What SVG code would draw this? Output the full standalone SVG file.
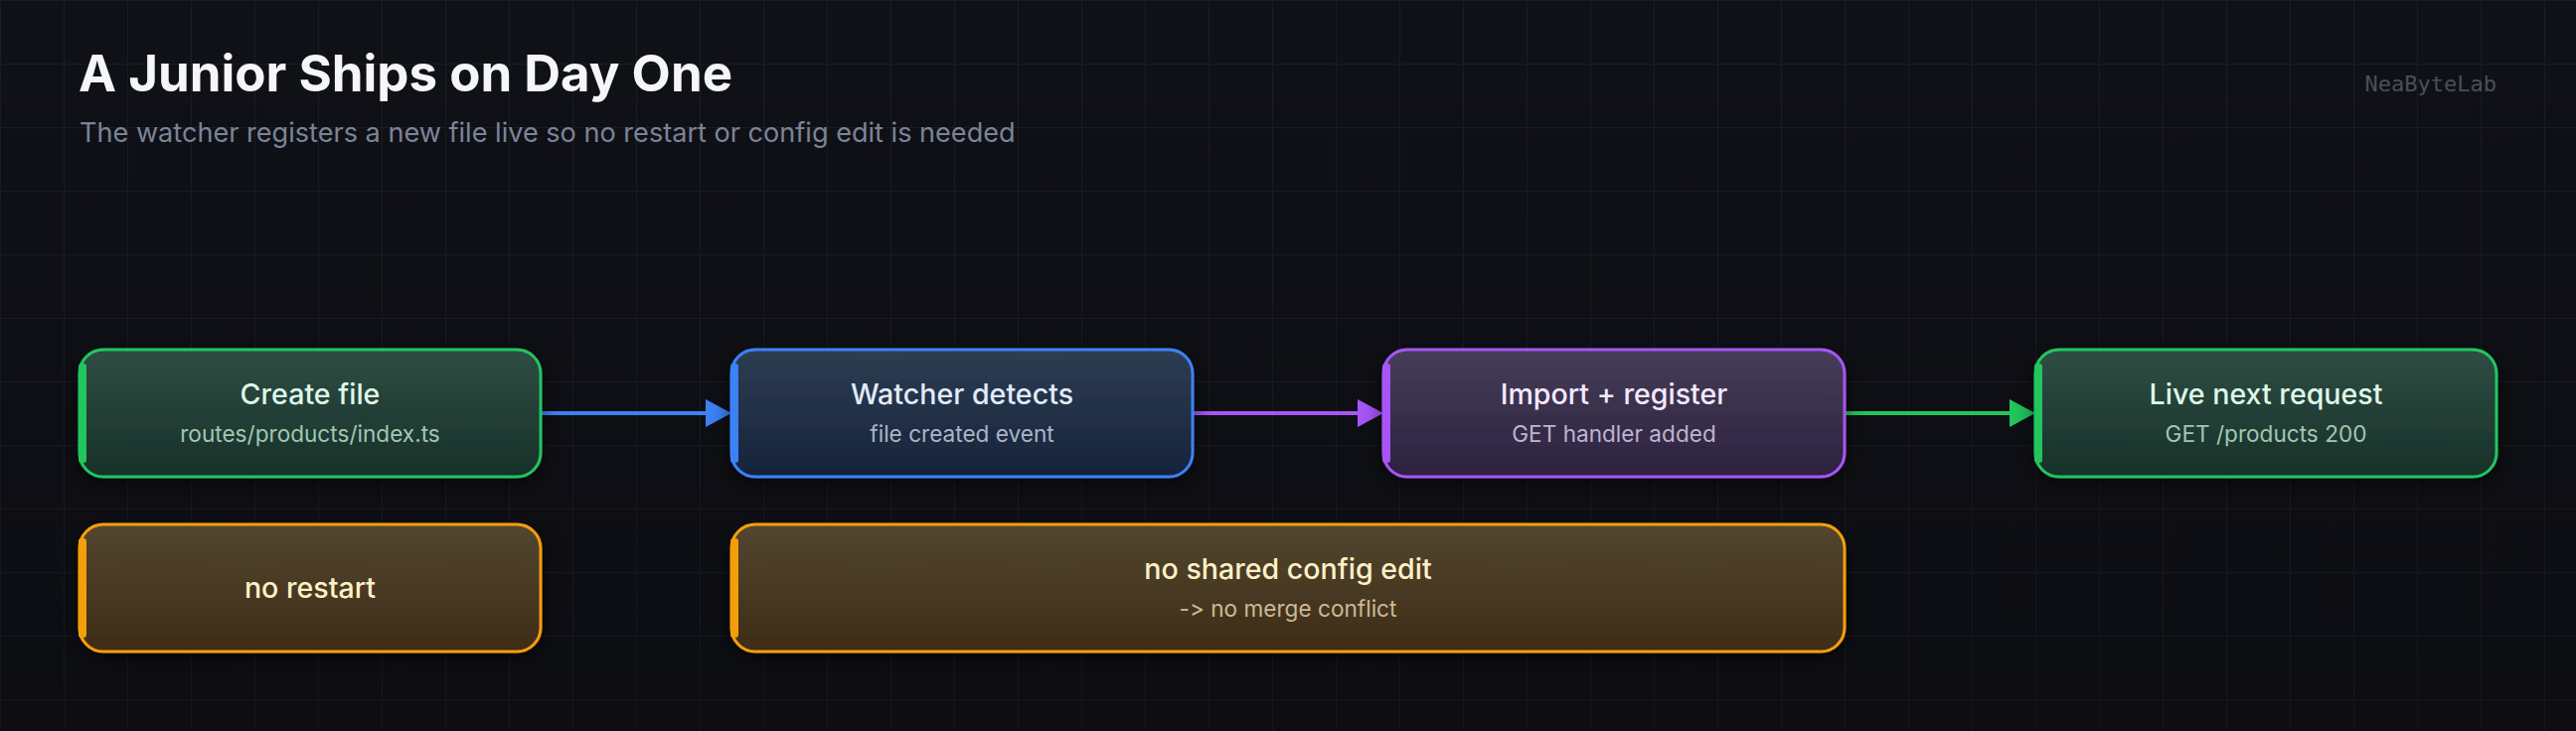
<svg xmlns="http://www.w3.org/2000/svg" width="2592" height="736" viewBox="0 0 2592 736">
  <defs>
    <pattern id="grid" width="64" height="64" patternUnits="userSpaceOnUse">
      <rect x="0" y="0" width="64" height="1" fill="#1b1d25"/>
      <rect x="0" y="0" width="1" height="64" fill="#1b1d25"/>
    </pattern>
    <linearGradient id="bgShade" x1="0" y1="0" x2="0" y2="1">
      <stop offset="0" stop-color="#000" stop-opacity="0"/>
      <stop offset="1" stop-color="#000" stop-opacity="0.22"/>
    </linearGradient>
    <linearGradient id="gGreen" x1="0" y1="0" x2="0" y2="1">
      <stop offset="0" stop-color="#2f4d44"/>
      <stop offset="1" stop-color="#173128"/>
    </linearGradient>
    <linearGradient id="gBlue" x1="0" y1="0" x2="0" y2="1">
      <stop offset="0" stop-color="#2e3d52"/>
      <stop offset="1" stop-color="#16233b"/>
    </linearGradient>
    <linearGradient id="gPurple" x1="0" y1="0" x2="0" y2="1">
      <stop offset="0" stop-color="#463d57"/>
      <stop offset="1" stop-color="#2c2240"/>
    </linearGradient>
    <linearGradient id="gOrange" x1="0" y1="0" x2="0" y2="1">
      <stop offset="0" stop-color="#534630"/>
      <stop offset="1" stop-color="#3e2c16"/>
    </linearGradient>
    <filter id="shadow" x="-20%" y="-40%" width="140%" height="180%">
      <feDropShadow dx="0" dy="6" stdDeviation="10" flood-color="#000" flood-opacity="0.55"/>
    </filter>
    <marker id="ahBlue" markerUnits="userSpaceOnUse" markerWidth="26" markerHeight="28" refX="0" refY="14" orient="auto">
      <path d="M0,0 L26,14 L0,28 Z" fill="#3b82f6"/>
    </marker>
    <marker id="ahPurple" markerUnits="userSpaceOnUse" markerWidth="26" markerHeight="28" refX="0" refY="14" orient="auto">
      <path d="M0,0 L26,14 L0,28 Z" fill="#a855f7"/>
    </marker>
    <marker id="ahGreen" markerUnits="userSpaceOnUse" markerWidth="26" markerHeight="28" refX="0" refY="14" orient="auto">
      <path d="M0,0 L26,14 L0,28 Z" fill="#22c55e"/>
    </marker>
  </defs>
  <style>
    text { font-variant-ligatures: none; font-feature-settings: "calt" 0, "liga" 0; }
    .title { font-family: Inter, "Liberation Sans", sans-serif; font-weight: 700; font-size: 51px; fill: #f5f6f8; }
    .subtitle { font-family: Inter, "Liberation Sans", sans-serif; font-size: 27.1px; fill: #7b8497; }
    .mark { font-family: "DejaVu Sans Mono", "Liberation Mono", monospace; font-size: 22px; fill: #4a4f5c; }
    .box { stroke-width: 3; filter: url(#shadow); }
    .nt { font-family: Inter, "Liberation Sans", sans-serif; font-weight: 500; font-size: 28.6px; text-anchor: middle; }
    .ns { font-family: Inter, "Liberation Sans", sans-serif; font-size: 22.6px; text-anchor: middle; }
    .green .box { fill: url(#gGreen); stroke: #22c55e; }
    .green .bar { fill: #22c55e; }
    .green .nt { fill: #dff8e7; }
    .green .ns { fill: #a3c6b3; }
    .blue .box { fill: url(#gBlue); stroke: #3b82f6; }
    .blue .bar { fill: #3b82f6; }
    .blue .nt { fill: #e1ebfb; }
    .blue .ns { fill: #abb5c7; }
    .purple .box { fill: url(#gPurple); stroke: #a855f7; }
    .purple .bar { fill: #a855f7; }
    .purple .nt { fill: #f3e9ff; }
    .purple .ns { fill: #bfb4cd; }
    .orange .box { fill: url(#gOrange); stroke: #f59e0b; }
    .orange .bar { fill: #f59e0b; }
    .orange .nt { fill: #fdf1c6; }
    .orange .ns { fill: #cbb998; }
    .conn { fill: none; stroke-width: 4; }
  </style>

  <rect x="0" y="0" width="2592" height="736" fill="#101117"/>
  <rect x="0" y="0" width="2592" height="736" fill="url(#grid)"/>
  <rect x="0" y="0" width="2592" height="736" fill="url(#bgShade)"/>

  <text class="title" x="79" y="92">A Junior Ships on Day One</text>
  <text class="subtitle" x="80" y="143">The watcher registers a new file live so no restart or config edit is needed</text>
  <text class="mark" x="2512" y="92" text-anchor="end">NeaByteLab</text>

  <g id="connectors">
    <line class="conn" x1="545" y1="416" x2="710" y2="416" stroke="#3b82f6" marker-end="url(#ahBlue)"/>
    <line class="conn" x1="1201" y1="416" x2="1366" y2="416" stroke="#a855f7" marker-end="url(#ahPurple)"/>
    <line class="conn" x1="1857" y1="416" x2="2022" y2="416" stroke="#22c55e" marker-end="url(#ahGreen)"/>
  </g>

  <g id="create-file" class="green">
    <rect class="box" x="80" y="352" width="464" height="128" rx="24"/>
    <rect class="bar" x="79" y="366" width="8" height="100" rx="3"/>
    <text class="nt" x="312" y="407">Create file</text>
    <text class="ns" x="312" y="445">routes/products/index.ts</text>
  </g>

  <g id="watcher-detects" class="blue">
    <rect class="box" x="736" y="352" width="464" height="128" rx="24"/>
    <rect class="bar" x="735" y="366" width="8" height="100" rx="3"/>
    <text class="nt" x="968" y="407">Watcher detects</text>
    <text class="ns" x="968" y="445">file created event</text>
  </g>

  <g id="import-register" class="purple">
    <rect class="box" x="1392" y="352" width="464" height="128" rx="24"/>
    <rect class="bar" x="1391" y="366" width="8" height="100" rx="3"/>
    <text class="nt" x="1624" y="407">Import + register</text>
    <text class="ns" x="1624" y="445">GET handler added</text>
  </g>

  <g id="live-next-request" class="green">
    <rect class="box" x="2048" y="352" width="464" height="128" rx="24"/>
    <rect class="bar" x="2047" y="366" width="8" height="100" rx="3"/>
    <text class="nt" x="2280" y="407">Live next request</text>
    <text class="ns" x="2280" y="445">GET /products 200</text>
  </g>

  <g id="no-restart" class="orange">
    <rect class="box" x="80" y="528" width="464" height="128" rx="24"/>
    <rect class="bar" x="79" y="542" width="8" height="100" rx="3"/>
    <text class="nt" x="312" y="602">no restart</text>
  </g>

  <g id="no-shared-config" class="orange">
    <rect class="box" x="736" y="528" width="1120" height="128" rx="24"/>
    <rect class="bar" x="735" y="542" width="8" height="100" rx="3"/>
    <text class="nt" x="1296" y="583">no shared config edit</text>
    <text class="ns" x="1296" y="621">-&gt; no merge conflict</text>
  </g>
</svg>
